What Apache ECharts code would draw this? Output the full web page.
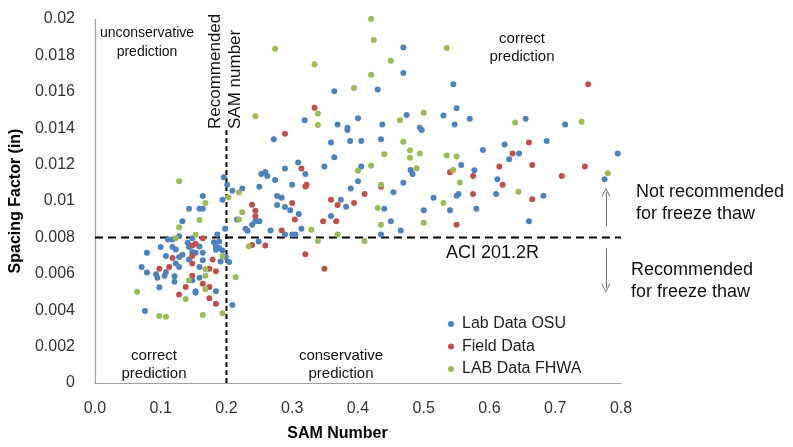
<!DOCTYPE html>
<html>
<head>
<meta charset="utf-8">
<script src="https://cdn.jsdelivr.net/npm/echarts@6/dist/echarts.min.js"></script>
<style>
html,body{margin:0;padding:0;background:#fff;}
#chart{width:793px;height:447px;}
</style>
</head>
<body>
<div id="chart"></div>
<script>
// ---- data ----
var seriesNames = ['Lab Data OSU', 'Field Data', 'LAB Data FHWA'];

var osuPoints = [
[0.196,0.01130],[0.201,0.01089],[0.209,0.01056],[0.224,0.01069],[0.253,0.01149],[0.250,0.01078],[0.164,0.01027],[0.194,0.01007],[0.143,0.00958],[0.159,0.00958],[0.164,0.00958],[0.133,0.00889],[0.216,0.00898],[0.239,0.00869],[0.244,0.00889],[0.250,0.00889],[0.229,0.00847],[0.232,0.00836],[0.198,0.00847],[0.186,0.00816],[0.128,0.00807],[0.148,0.00796],[0.111,0.00789],[0.118,0.00789],[0.141,0.00770],[0.181,0.00774],[0.189,0.00778],[0.100,0.00747],[0.118,0.00747],[0.123,0.00734],[0.143,0.00747],[0.159,0.00750],[0.184,0.00752],[0.189,0.00742],[0.184,0.00732],[0.194,0.00728],[0.079,0.00716],[0.164,0.00716],[0.153,0.00716],[0.148,0.00720],[0.133,0.00705],[0.108,0.00698],[0.128,0.00692],[0.143,0.00678],[0.123,0.00656],[0.164,0.00674],[0.199,0.00692],[0.204,0.00665],[0.191,0.00668],[0.071,0.00638],[0.128,0.00638],[0.159,0.00638],[0.079,0.00607],[0.108,0.00610],[0.093,0.00597],[0.095,0.00578],[0.106,0.00589],[0.121,0.00586],[0.121,0.00556],[0.159,0.00578],[0.148,0.00564],[0.098,0.00526],[0.153,0.00504],[0.153,0.00496],[0.184,0.00504],[0.209,0.00428],[0.076,0.00395],
[0.272,0.01339],[0.359,0.01321],[0.388,0.01330],[0.405,0.01330],[0.435,0.01339],[0.364,0.01240],[0.349,0.01190],[0.405,0.01190],[0.309,0.01211],[0.289,0.01179],[0.320,0.01149],[0.259,0.01160],[0.262,0.01138],[0.274,0.01116],[0.400,0.01108],[0.300,0.01089],[0.389,0.01069],[0.454,0.01048],[0.277,0.01027],[0.284,0.01018],[0.374,0.01007],[0.277,0.00978],[0.289,0.00967],[0.297,0.00949],[0.310,0.00929],[0.382,0.00969],[0.440,0.00958],[0.359,0.00918],[0.267,0.00838],[0.314,0.00847],[0.450,0.00889],[0.289,0.00816],[0.300,0.00816],[0.305,0.00816],[0.249,0.00778],[0.465,0.00838],
[0.469,0.01843],[0.469,0.01703],[0.430,0.01612],[0.364,0.01603],[0.400,0.01454],[0.474,0.01472],[0.319,0.01443],[0.369,0.01421],[0.384,0.01403],[0.384,0.01390],[0.437,0.01421],[0.494,0.01403],[0.480,0.01171],[0.483,0.01149],[0.469,0.01100],[0.435,0.00816],
[0.545,0.01641],[0.550,0.01510],[0.530,0.01470],[0.570,0.01452],[0.655,0.01452],[0.715,0.01421],[0.497,0.01390],[0.547,0.01421],[0.687,0.01330],[0.623,0.01310],[0.590,0.01280],[0.645,0.01261],[0.630,0.01230],[0.795,0.01261],[0.557,0.01198],[0.577,0.01169],[0.612,0.01119],[0.775,0.01119],[0.610,0.01038],[0.550,0.01029],[0.553,0.01038],[0.515,0.01018],[0.682,0.01029],[0.500,0.00949],[0.540,0.00949],[0.580,0.00958],[0.660,0.00889]
];

var fieldPoints = [
[0.239,0.00980],[0.244,0.00947],[0.244,0.00916],[0.164,0.00796],[0.148,0.00756],[0.153,0.00765],[0.239,0.00758],[0.148,0.00698],[0.118,0.00687],[0.179,0.00678],[0.148,0.00656],[0.098,0.00628],[0.113,0.00638],[0.174,0.00628],[0.184,0.00614],[0.148,0.00589],[0.138,0.00528],[0.164,0.00546],[0.174,0.00528],[0.128,0.00486],[0.174,0.00466],[0.184,0.00436],
[0.314,0.01179],[0.320,0.01080],[0.322,0.01089],[0.300,0.00989],[0.304,0.00898],[0.359,0.01007],[0.369,0.00978],[0.394,0.00989],[0.410,0.01038],[0.435,0.01078],[0.347,0.00889],[0.367,0.00889],[0.284,0.00838],[0.259,0.00756],[0.320,0.00707],[0.349,0.00628],[0.334,0.01512],[0.289,0.01370],
[0.750,0.01641],[0.660,0.01321],[0.635,0.01261],[0.615,0.01190],[0.665,0.01198],[0.540,0.01158],[0.575,0.01138],[0.620,0.01089],[0.710,0.01138],[0.745,0.01190],[0.575,0.01038],[0.665,0.01009],[0.550,0.00869]
];

var fhwaPoints = [
[0.128,0.01109],[0.168,0.00989],[0.159,0.00895],[0.128,0.00856],[0.153,0.00814],[0.123,0.00796],[0.203,0.01020],[0.219,0.01048],[0.224,0.00938],[0.219,0.00898],[0.234,0.00752],[0.194,0.00696],[0.168,0.00625],[0.168,0.00589],[0.143,0.00564],[0.168,0.00515],[0.064,0.00501],[0.138,0.00461],[0.214,0.00581],[0.098,0.00368],[0.108,0.00364],[0.164,0.00373],[0.194,0.00383],
[0.440,0.01257],[0.420,0.01193],[0.400,0.01166],[0.435,0.01089],[0.430,0.00962],[0.435,0.00869],[0.329,0.00842],[0.369,0.00816],[0.339,0.00780],[0.410,0.00780],
[0.420,0.02000],[0.424,0.01885],[0.274,0.01836],[0.334,0.01752],[0.450,0.01770],[0.420,0.01694],[0.394,0.01621],[0.244,0.01466],[0.339,0.01481],[0.339,0.01417],[0.464,0.01443],[0.469,0.01326],[0.479,0.01279],[0.479,0.01237],[0.489,0.01180],
[0.535,0.01840],[0.500,0.01485],[0.639,0.01432],[0.740,0.01436],[0.494,0.01261],[0.535,0.01250],[0.550,0.01244],[0.545,0.01171],[0.555,0.01102],[0.644,0.01051],[0.530,0.00989],[0.500,0.00881],[0.780,0.01153]
];

// reference lines
var aciLine = [[0, 0.008], [0.8, 0.008]];
var samLine = [[0.2, 0], [0.2, 0.0139]];
// arrows: [x, yFrom, yTo]
var upArrow = [0.777, 0.0086, 0.0105];
var downArrow = [0.777, 0.0074, 0.0052];

var xTicks = { min: 0, max: 0.8, interval: 0.1 };
var yTicks = { min: 0, max: 0.02, interval: 0.002 };

var colors = ['#4F81BD', '#C0504D', '#9BBB59'];
var FONT = '"Liberation Sans", Arial, sans-serif';

var chart = echarts.init(document.getElementById('chart'), null, { renderer: 'canvas' });

function scatter(name, data, color) {
  return {
    name: name, type: 'scatter', data: data,
    symbol: 'circle', symbolSize: 6,
    itemStyle: { color: color, opacity: 1 },
    emphasis: { disabled: true },
    clip: false
  };
}

var chevron = 'path://M0,10 L5,0 L10,10 L8.9,10 L5,2.2 L1.1,10 Z';

var option = {
  animation: false,
  backgroundColor: '#ffffff',
  grid: { left: 93, right: 172, top: 19, bottom: 62, containLabel: false },
  xAxis: {
    type: 'value', min: xTicks.min, max: xTicks.max, interval: xTicks.interval,
    name: 'SAM Number', nameLocation: 'middle', nameGap: 43,
    nameTextStyle: { fontFamily: FONT, fontSize: 16, fontWeight: 'bold', color: '#000', padding: [0, 41, 0, 0] },
    axisLine: { show: true, onZero: false, lineStyle: { color: '#a0a0a0', width: 1.2 } },
    axisTick: { show: false },
    splitLine: { show: false },
    axisLabel: { margin: 18, fontFamily: FONT, fontSize: 16, color: '#333',
      formatter: function (v) { return v.toFixed(1); } }
  },
  yAxis: {
    type: 'value', min: yTicks.min, max: yTicks.max, interval: yTicks.interval,
    name: 'Spacing Factor (in)', nameLocation: 'middle', nameGap: 66,
    nameTextStyle: { fontFamily: FONT, fontSize: 16, fontWeight: 'bold', color: '#000' },
    axisLine: { show: true, onZero: false, lineStyle: { color: '#a0a0a0', width: 1.2 } },
    axisTick: { show: false },
    splitLine: { show: false },
    axisLabel: { margin: 20, fontFamily: FONT, fontSize: 16, color: '#333',
      formatter: function (v) { return String(parseFloat(v.toFixed(3))); } }
  },
  legend: {
    data: seriesNames, orient: 'vertical', left: 443, top: 311,
    itemWidth: 12, itemHeight: 6, itemGap: 6.5, icon: 'circle',
    textStyle: { fontFamily: FONT, fontSize: 16, color: '#222' },
    selectedMode: false
  },
  series: [
    scatter(seriesNames[0], osuPoints, colors[0]),
    scatter(seriesNames[1], fieldPoints, colors[1]),
    scatter(seriesNames[2], fhwaPoints, colors[2]),
    {
      name: 'ACI', type: 'line', data: aciLine, symbol: 'none', silent: true,
      lineStyle: { color: '#000', width: 2, type: [8, 5] }, z: 1
    },
    {
      name: 'SAM', type: 'line', data: samLine, symbol: 'none', silent: true,
      lineStyle: { color: '#000', width: 2, type: [5, 3] }, z: 1,
      markLine: {
        silent: true, animation: false,
        symbol: ['none', chevron], symbolSize: [9, 9],
        lineStyle: { color: '#707070', width: 1, type: 'solid' },
        label: { show: false },
        data: [
          [{ coord: [upArrow[0], upArrow[1]] }, { coord: [upArrow[0], upArrow[2]] }],
          [{ coord: [downArrow[0], downArrow[1]] }, { coord: [downArrow[0], downArrow[2]] }]
        ]
      }
    }
  ],
  graphic: [
    { type: 'text', x: 147, y: 24, style: { text: 'unconservative\nprediction', font: '14px ' + FONT, fill: '#111', align: 'center', verticalAlign: 'top', lineHeight: 19 } },
    { type: 'text', x: 522, y: 30, style: { text: 'correct\nprediction', font: '15px ' + FONT, fill: '#111', align: 'center', verticalAlign: 'top', lineHeight: 18 } },
    { type: 'text', x: 154, y: 347, style: { text: 'correct\nprediction', font: '15px ' + FONT, fill: '#111', align: 'center', verticalAlign: 'top', lineHeight: 18 } },
    { type: 'text', x: 341, y: 347, style: { text: 'conservative\nprediction', font: '15px ' + FONT, fill: '#111', align: 'center', verticalAlign: 'top', lineHeight: 18 } },
    { type: 'text', x: 446, y: 253, style: { text: 'ACI 201.2R', font: '18px ' + FONT, fill: '#111', align: 'left', verticalAlign: 'middle' } },
    { type: 'text', x: 636, y: 181, style: { text: 'Not recommended\nfor freeze thaw', font: '18px ' + FONT, fill: '#111', align: 'left', verticalAlign: 'top', lineHeight: 22 } },
    { type: 'text', x: 631, y: 259, style: { text: 'Recommended\nfor freeze thaw', font: '18px ' + FONT, fill: '#111', align: 'left', verticalAlign: 'top', lineHeight: 22 } },
    { type: 'text', x: 205, y: 129, rotation: Math.PI / 2, style: { text: 'Recommended\nSAM number', font: '17px ' + FONT, fill: '#111', align: 'left', verticalAlign: 'top', lineHeight: 20 } }
  ]
};
chart.setOption(option);
</script>
</body>
</html>
